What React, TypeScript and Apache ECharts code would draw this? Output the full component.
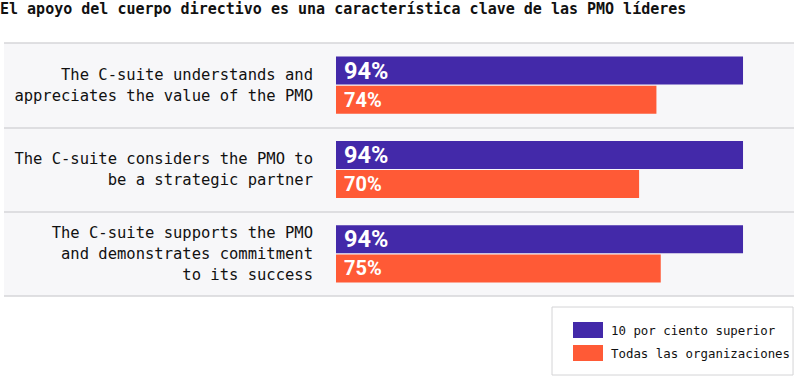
import React, { useEffect, useRef } from "react";
import * as echarts from "echarts";

const title = "El apoyo del cuerpo directivo es una característica clave de las PMO líderes";
const categories = [
  "The C-suite understands and\nappreciates the value of the PMO",
  "The C-suite considers the PMO to\nbe a strategic partner",
  "The C-suite supports the PMO\nand demonstrates commitment\nto its success",
];
const seriesNames = ["10 por ciento superior", "Todas las organizaciones"];
const topTen = [94, 94, 94];
const allOrgs = [74, 70, 75];

const BLUE = "#4329a9";
const ORANGE = "#ff5a36";
const MONO = "'DejaVu Sans Mono', 'Liberation Mono', monospace";

export default function App() {
  const ref = useRef<HTMLDivElement>(null);
  useEffect(() => {
    const chart = echarts.init(ref.current!, undefined, { renderer: "svg" });
    chart.setOption({
      animation: false,
      title: {
        text: title,
        left: 0,
        top: 1,
        padding: 0,
        textStyle: { fontFamily: MONO, fontSize: 15, fontWeight: "bold", color: "#111" },
      },
      legend: {
        orient: "vertical",
        left: 552,
        top: 307,
        padding: [15, 3, 14, 21],
        borderColor: "#d4d4d6",
        borderWidth: 1,
        itemWidth: 30,
        itemHeight: 16,
        itemGap: 7,
        icon: "rect",
        data: seriesNames,
        textStyle: { fontFamily: MONO, fontSize: 12.4, color: "#111", padding: [0, 0, 0, 3] },
      },
      grid: [
        { left: 4, right: 0, top: 43, bottom: 81, show: true, backgroundColor: "#f7f7f9", borderWidth: 0 },
        { left: 336, right: 25, top: 43, bottom: 81 },
      ],
      xAxis: [
        { gridIndex: 0, type: "value", show: false, min: 0, max: 100 },
        { gridIndex: 1, type: "value", show: false, min: 0, max: 100 },
      ],
      yAxis: [
        {
          gridIndex: 0,
          type: "category",
          inverse: true,
          data: categories,
          axisLine: { show: false },
          axisTick: { show: false },
          axisLabel: { show: false },
          splitLine: { show: true, lineStyle: { color: "#d6d6d9", width: 1.5 } },
        },
        {
          gridIndex: 1,
          type: "category",
          inverse: true,
          data: categories,
          axisLine: { show: false },
          axisTick: { show: false },
          splitLine: { show: false },
          axisLabel: {
            margin: 23,
            align: "right",
            fontFamily: MONO,
            fontSize: 15.5,
            lineHeight: 21,
            color: "#111",
          },
        },
      ],
      series: [
        {
          name: seriesNames[0],
          type: "bar",
          xAxisIndex: 1,
          yAxisIndex: 1,
          data: topTen,
          barWidth: 28,
          barGap: "4%",
          itemStyle: { color: BLUE },
          label: {
            show: true,
            position: "insideLeft",
            distance: 8,
            formatter: "{c}%",
            color: "#fff",
            fontFamily: "Roboto, sans-serif",
            fontWeight: "bold",
            fontSize: 23.5,
          },
        },
        {
          name: seriesNames[1],
          type: "bar",
          xAxisIndex: 1,
          yAxisIndex: 1,
          data: allOrgs,
          barWidth: 28,
          itemStyle: { color: ORANGE },
          label: {
            show: true,
            position: "insideLeft",
            distance: 8,
            formatter: "{c}%",
            color: "#fff",
            fontFamily: "Roboto, sans-serif",
            fontWeight: "bold",
            fontSize: 20,
          },
        },
      ],
    });
    return () => chart.dispose();
  }, []);
  return (
    <div
      ref={ref}
      style={{ position: "absolute", left: 0, top: 0, width: 794, height: 377 }}
    />
  );
}
